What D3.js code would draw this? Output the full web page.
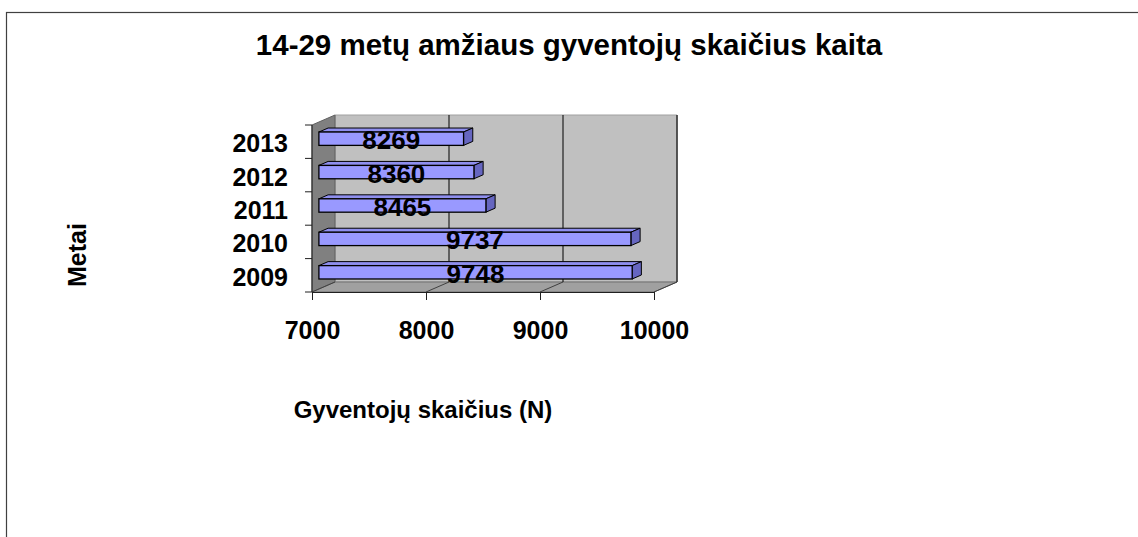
<!DOCTYPE html>
<html>
<head>
<meta charset="utf-8">
<script src="https://cdn.jsdelivr.net/npm/d3@7"></script>
<style>
  body { margin: 0; background: #fff; }
  text { font-family: "Liberation Sans", Arial, sans-serif; font-weight: bold; fill: #000; }
</style>
</head>
<body>
<svg id="chart" width="1138" height="537"></svg>
<script>
// data
var years = ["2009", "2010", "2011", "2012", "2013"];
var population = [9748, 9737, 8465, 8360, 8269];
var xTicks = [7000, 8000, 9000, 10000];

var titleText = "14-29 metų amžiaus gyventojų skaičius kaita";
var xTitle = "Gyventojų skaičius (N)";
var yTitle = "Metai";

var svg = d3.select("#chart");

// frame (right and bottom edges run off the page)
svg.append("rect")
    .attr("x", 6.5).attr("y", 12.5)
    .attr("width", 1200).attr("height", 600)
    .attr("fill", "none").attr("stroke", "#404040").attr("stroke-width", 1.2);

// front plane of the 3d box
var pLeft = 312, pRight = 654, pTop = 125, pBottom = 292;
// depth vector of the box
var dx = 23, dy = -10;

var x = d3.scaleLinear().domain([7000, 10000]).range([pLeft, pRight]);

// 2013 on top
var yCat = years.slice().reverse();
var yBand = d3.scaleBand().domain(yCat).range([pTop, pBottom]).paddingInner(0.6).paddingOuter(0.3);
var yEdge = d3.scaleBand().domain(yCat).range([pTop, pBottom]).padding(0);

var pts = function(a) { return a.map(function(p) { return p.join(","); }).join(" "); };

// back wall
svg.append("polygon")
    .attr("points", pts([[pLeft + dx, pTop + dy], [pRight + dx, pTop + dy], [pRight + dx, pBottom + dy], [pLeft + dx, pBottom + dy]]))
    .attr("fill", "#c0c0c0").attr("stroke", "#a0a0a0");

// left side wall
svg.append("polygon")
    .attr("points", pts([[pLeft, pTop], [pLeft + dx, pTop + dy], [pLeft + dx, pBottom + dy], [pLeft, pBottom]]))
    .attr("fill", "#808080").attr("stroke", "#606060");

// floor
svg.append("polygon")
    .attr("points", pts([[pLeft, pBottom], [pRight, pBottom], [pRight + dx, pBottom + dy], [pLeft + dx, pBottom + dy]]))
    .attr("fill", "#a0a0a0").attr("stroke", "#707070");

// right edge of back wall
svg.append("line")
    .attr("x1", pRight + dx).attr("x2", pRight + dx)
    .attr("y1", pTop + dy).attr("y2", pBottom + dy)
    .attr("stroke", "#303030").attr("stroke-width", 1.5);

// gridlines on back wall + lines over the floor
var inner = xTicks.slice(1, -1);
svg.selectAll(".grid").data(inner).enter().append("line")
    .attr("class", "grid")
    .attr("x1", function(d) { return x(d) + dx; })
    .attr("x2", function(d) { return x(d) + dx; })
    .attr("y1", pTop + dy).attr("y2", pBottom + dy)
    .attr("stroke", "#000").attr("stroke-width", 1);

svg.selectAll(".floorline").data(xTicks).enter().append("line")
    .attr("class", "floorline")
    .attr("x1", function(d) { return x(d); })
    .attr("y1", pBottom)
    .attr("x2", function(d) { return x(d) + dx; })
    .attr("y2", pBottom + dy)
    .attr("stroke", "#404040").attr("stroke-width", 1);

// bars
var f0 = 0.3, f1 = 0.7;
var data = years.map(function(y, i) { return {year: y, value: population[i]}; });

var bars = svg.selectAll(".bar").data(data).enter().append("g").attr("class", "bar");

function face(d) {
    var y0 = yBand(d.year), h = yBand.bandwidth();
    return {
        x0: x(7000) + f0 * dx, x1: x(d.value) + f0 * dx,
        y0: y0 + f0 * dy, y1: y0 + h + f0 * dy
    };
}
var ddx = (f1 - f0) * dx, ddy = (f1 - f0) * dy;

// top face
bars.append("polygon")
    .attr("points", function(d) {
        var f = face(d);
        return pts([[f.x0, f.y0], [f.x1, f.y0], [f.x1 + ddx, f.y0 + ddy], [f.x0 + ddx, f.y0 + ddy]]);
    })
    .attr("fill", "#8f8fef").attr("stroke", "#000").attr("stroke-width", 1);

// end face
bars.append("polygon")
    .attr("points", function(d) {
        var f = face(d);
        return pts([[f.x1, f.y0], [f.x1 + ddx, f.y0 + ddy], [f.x1 + ddx, f.y1 + ddy], [f.x1, f.y1]]);
    })
    .attr("fill", "#6666c0").attr("stroke", "#000").attr("stroke-width", 1);

// front face
bars.append("rect")
    .attr("x", function(d) { return face(d).x0; })
    .attr("y", function(d) { return face(d).y0; })
    .attr("width", function(d) { var f = face(d); return f.x1 - f.x0; })
    .attr("height", function(d) { var f = face(d); return f.y1 - f.y0; })
    .attr("fill", "#9999ff").attr("stroke", "#000").attr("stroke-width", 1.3);

// value labels
bars.append("text")
    .attr("x", function(d) { var f = face(d); return (f.x0 + f.x1) / 2; })
    .attr("y", function(d) { var f = face(d); return (f.y0 + f.y1) / 2 + 10.5; })
    .attr("text-anchor", "middle")
    .style("font-size", "26px")
    .text(function(d) { return d.value; });

// left axis line + ticks at category edges
svg.append("line")
    .attr("x1", pLeft).attr("x2", pLeft).attr("y1", pTop).attr("y2", pBottom)
    .attr("stroke", "#202020");
var edges = yCat.map(function(c) { return yEdge(c); }).concat([pBottom]);
svg.selectAll(".ytick").data(edges).enter().append("line")
    .attr("class", "ytick")
    .attr("x1", pLeft - 7).attr("x2", pLeft)
    .attr("y1", function(d) { return d; }).attr("y2", function(d) { return d; })
    .attr("stroke", "#202020");

svg.selectAll(".ylab").data(yCat).enter().append("text")
    .attr("class", "ylab")
    .attr("x", 288)
    .attr("y", function(d) { return yEdge(d) + yEdge.bandwidth() / 2 + 10.5; })
    .attr("text-anchor", "end")
    .style("font-size", "25px")
    .text(function(d) { return d; });

// bottom axis
var xAxis = d3.axisBottom(x).tickValues(xTicks).tickSize(8).tickPadding(16).tickFormat(d3.format("d"));
var gx = svg.append("g").attr("transform", "translate(0," + pBottom + ")").call(xAxis);
gx.select(".domain").attr("stroke", "#202020");
gx.selectAll(".tick line").attr("stroke", "#202020");
gx.selectAll(".tick text")
    .attr("fill", "#000")
    .style("font-size", "25px")
    .style("font-family", "'Liberation Sans', Arial, sans-serif")
    .style("font-weight", "bold")
    .attr("dy", "0.9em");

// titles
svg.append("text")
    .attr("x", 569).attr("y", 55)
    .attr("text-anchor", "middle")
    .style("font-size", "29.5px")
    .text(titleText);

svg.append("text")
    .attr("x", 423).attr("y", 418)
    .attr("text-anchor", "middle")
    .style("font-size", "24px")
    .text(xTitle);

svg.append("text")
    .attr("transform", "translate(86,255) rotate(-90)")
    .attr("text-anchor", "middle")
    .style("font-size", "25px")
    .text(yTitle);
</script>
</body>
</html>
